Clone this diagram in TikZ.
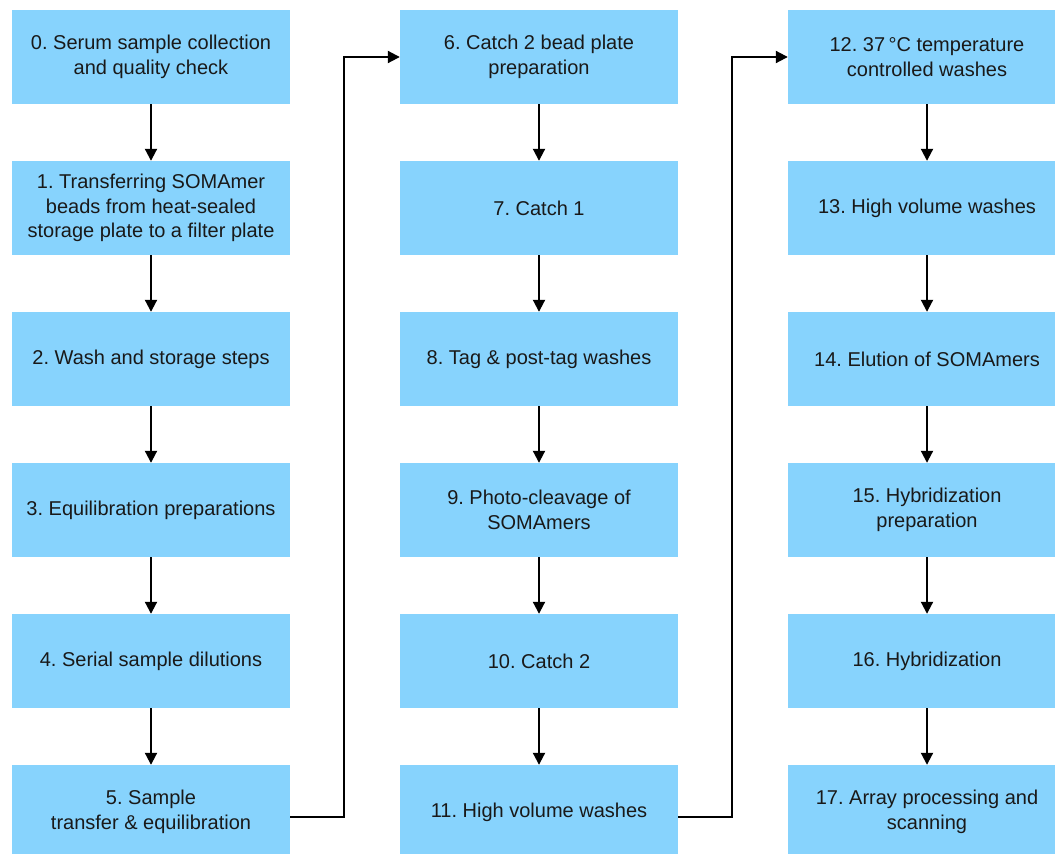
\documentclass[tikz,border=0pt]{standalone}
\usepackage{fontspec}
\setmainfont{Liberation Sans}
\usetikzlibrary{arrows.meta}
\definecolor{boxblue}{HTML}{87D3FD}
\begin{document}
\frenchspacing
\begin{tikzpicture}[x=1pt,y=-1pt,
  stepbox/.style={fill=boxblue,draw=none,minimum width=278pt,minimum height=94pt,inner sep=0pt,align=center,font=\fontsize{20}{24.5}\selectfont\frenchspacing,text=black!90},
  flow/.style={line width=2pt,-{Triangle[length=12pt,width=12pt]}}]
\useasboundingbox (0,0) rectangle (1055,854);
\clip (0,0) rectangle (1055,854);
% column 1
\node[stepbox] (s0) at (151,57) {0. Serum sample collection\\and quality check};
\node[stepbox] (s1) at (151,208) {1. Transferring SOMAmer\\beads from heat-sealed\\storage plate to a filter plate};
\node[stepbox] (s2) at (151,359) {2. Wash and storage steps};
\node[stepbox] (s3) at (151,510) {3. Equilibration preparations};
\node[stepbox] (s4) at (151,661) {4. Serial sample dilutions};
\node[stepbox] (s5) at (151,812) {5. Sample\\transfer \& equilibration};
% column 2
\node[stepbox] (s6) at (539,57) {6. Catch 2 bead plate\\preparation};
\node[stepbox] (s7) at (539,208) {7. Catch 1};
\node[stepbox] (s8) at (539,359) {8. Tag \& post-tag washes};
\node[stepbox] (s9) at (539,510) {9. Photo-cleavage of\\SOMAmers};
\node[stepbox] (s10) at (539,661) {10. Catch 2};
\node[stepbox] (s11) at (539,812) {11. High volume washes};
% column 3
\node[stepbox] (s12) at (927,57) {12. 37\,°C temperature\\controlled washes};
\node[stepbox] (s13) at (927,208) {13. High volume washes};
\node[stepbox] (s14) at (927,359) {14. Elution of SOMAmers};
\node[stepbox] (s15) at (927,510) {15. Hybridization\\preparation};
\node[stepbox] (s16) at (927,661) {16. Hybridization};
\node[stepbox] (s17) at (927,812) {17. Array processing and\\scanning};
% vertical arrows
\foreach \a/\b in {s0/s1,s1/s2,s2/s3,s3/s4,s4/s5,s6/s7,s7/s8,s8/s9,s9/s10,s10/s11,s12/s13,s13/s14,s14/s15,s15/s16,s16/s17}
  \draw[flow] (\a.south) -- (\b.north);
% elbow connectors
\coordinate (e1) at (344,817);
\coordinate (e2) at (344,57);
\draw[flow] (s5.east |- e1) -- (e1) -- (e2) -- (s6.west);
\coordinate (f1) at (732,817);
\coordinate (f2) at (732,57);
\draw[flow] (s11.east |- f1) -- (f1) -- (f2) -- (s12.west);
\end{tikzpicture}
\end{document}
